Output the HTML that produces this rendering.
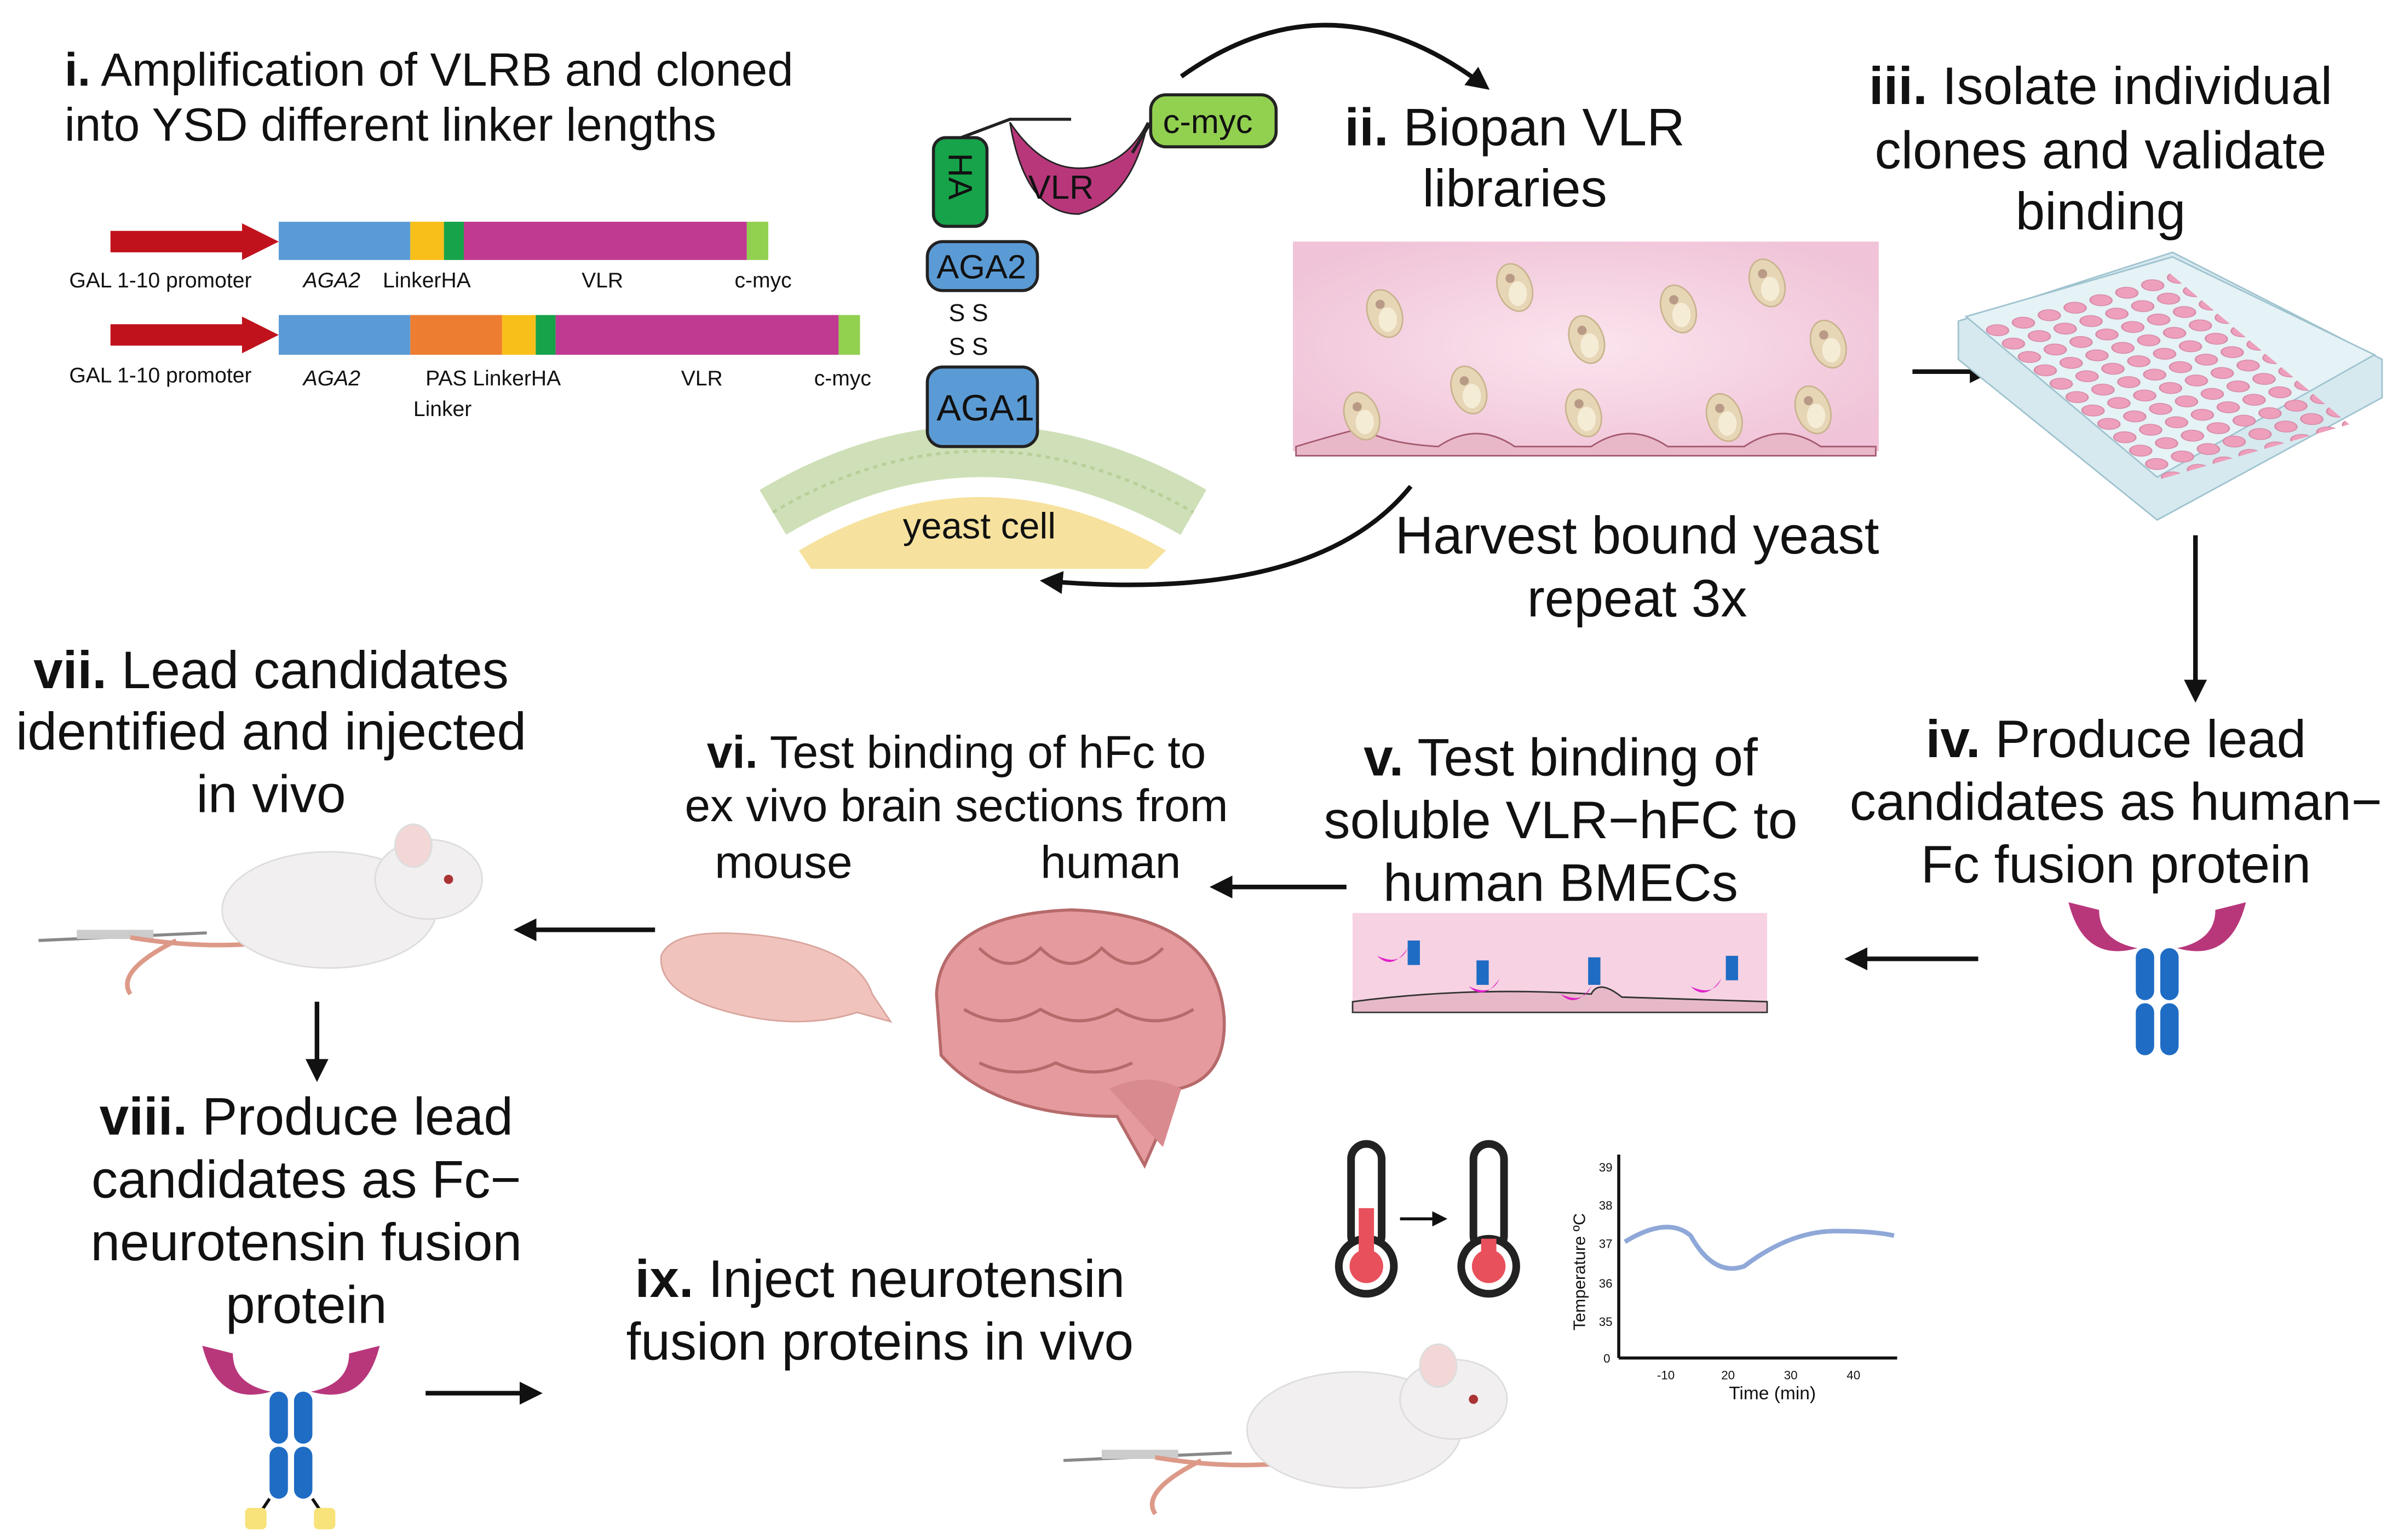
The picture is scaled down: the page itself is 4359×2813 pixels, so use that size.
<!DOCTYPE html>
<html><head><meta charset="utf-8"><style>
html,body{margin:0;padding:0;background:#fff}
svg{display:block}
text{font-family:"Liberation Sans","DejaVu Sans",sans-serif;fill:#111}
.h{font-size:30.5px}
.m{font-size:30px}
.s{font-size:14px}
.b{font-size:34.5px}
</style></head><body>
<svg width="4359" height="2813" viewBox="0 0 1560 1007" xmlns="http://www.w3.org/2000/svg">
<defs>
<marker id="ah" markerWidth="5" markerHeight="5" refX="3.5" refY="2.5" orient="auto" markerUnits="strokeWidth"><path d="M0,0 L5,2.5 L0,5 Z" fill="#111"/></marker>
<radialGradient id="pk" cx="50%" cy="50%" r="60%"><stop offset="0" stop-color="#fbe4ee"/><stop offset="1" stop-color="#f0c3d8"/></radialGradient>
<pattern id="wells" width="1" height="1" patternUnits="userSpaceOnUse"><circle cx="0.5" cy="0.5" r="0.36" fill="#ee9fbc" stroke="#d58aa6" stroke-width="0.05"/></pattern>
<g id="cell"><ellipse cx="0" cy="0" rx="11" ry="16" fill="#e6d6b5" stroke="#c9b48e" transform="rotate(-20)"/><ellipse cx="2" cy="4" rx="6" ry="8" fill="#f5ecd6"/><circle cx="-3" cy="-6" r="3" fill="#b89a86"/></g>
<g id="ab"><path d="M-58,0 q10,40 45,30 q-25,-5 -25,-25 z" fill="#b8377b"/><path d="M58,0 q-10,40 -45,30 q25,-5 25,-25 z" fill="#b8377b"/><rect x="-14" y="30" width="12" height="34" rx="6" fill="#1f6cc4"/><rect x="2" y="30" width="12" height="34" rx="6" fill="#1f6cc4"/><rect x="-14" y="66" width="12" height="34" rx="6" fill="#1f6cc4"/><rect x="2" y="66" width="12" height="34" rx="6" fill="#1f6cc4"/></g>
<g id="mouse"><path d="M-150,50 L-40,45" stroke="#888" stroke-width="2"/><rect x="-125" y="43" width="50" height="6" fill="#ccc"/><path d="M-90,48 q60,10 110,0" stroke="#d98" stroke-width="3" fill="none"/><path d="M-60,50 q-40,20 -30,35" stroke="#d98" stroke-width="3" fill="none"/><ellipse cx="40" cy="30" rx="70" ry="38" fill="#f1efef" stroke="#ddd"/><ellipse cx="105" cy="10" rx="35" ry="26" fill="#f1efef" stroke="#ddd"/><ellipse cx="95" cy="-12" rx="12" ry="14" fill="#f3d6d6" stroke="#ddd"/><circle cx="118" cy="10" r="3" fill="#a33"/></g>
<g id="therm"><rect x="-10" y="0" width="20" height="70" rx="10" fill="#fff" stroke="#222" stroke-width="5"/><circle cx="0" cy="80" r="18" fill="#fff" stroke="#222" stroke-width="5"/><circle cx="0" cy="80" r="11" fill="#e8505b"/></g>
</defs>

<!-- i -->
<text class="h" x="42" y="56"><tspan font-weight="bold">i.</tspan> Amplification of VLRB and cloned</text>
<text class="h" x="42" y="92">into YSD different linker lengths</text>
<line x1="72" y1="158" x2="160" y2="158" stroke="#c0121c" stroke-width="14"/><path d="M158,146 L182,158 L158,170Z" fill="#c0121c"/>
<rect x="182" y="145" width="86" height="25" fill="#5b9bd5"/><rect x="268" y="145" width="22" height="25" fill="#f8bf1a"/><rect x="290" y="145" width="13" height="25" fill="#17a34a"/><rect x="303" y="145" width="185" height="25" fill="#c03a92"/><rect x="488" y="145" width="14" height="25" fill="#92d050"/>
<text class="s" x="45" y="188">GAL 1-10 promoter</text><text class="s" x="198" y="188" font-style="italic">AGA2</text><text class="s" x="250" y="188">LinkerHA</text><text class="s" x="380" y="188">VLR</text><text class="s" x="480" y="188">c-myc</text>
<line x1="72" y1="219" x2="160" y2="219" stroke="#c0121c" stroke-width="14"/><path d="M158,207 L182,219 L158,231Z" fill="#c0121c"/>
<rect x="182" y="206" width="86" height="26" fill="#5b9bd5"/><rect x="268" y="206" width="60" height="26" fill="#ed7d31"/><rect x="328" y="206" width="22" height="26" fill="#f8bf1a"/><rect x="350" y="206" width="13" height="26" fill="#17a34a"/><rect x="363" y="206" width="185" height="26" fill="#c03a92"/><rect x="548" y="206" width="14" height="26" fill="#92d050"/>
<text class="s" x="45" y="250">GAL 1-10 promoter</text><text class="s" x="198" y="252" font-style="italic">AGA2</text><text class="s" x="278" y="252">PAS  LinkerHA</text><text class="s" x="445" y="252">VLR</text><text class="s" x="532" y="252">c-myc</text><text class="s" x="270" y="272">Linker</text>

<!-- yeast -->
<path d="M505,335 Q640,255 780,335" stroke="#cfe0b8" stroke-width="34" fill="none"/>
<path d="M505,335 Q640,255 780,335" stroke="#b9cf9a" stroke-width="2" fill="none" stroke-dasharray="3,3"/>
<path d="M522,360 Q640,290 762,360 L750,372 L530,372Z" fill="#f6e29e"/>
<text x="590" y="352" font-size="24">yeast cell</text>
<rect x="606" y="240" width="72" height="52" rx="10" fill="#5b9bd5" stroke="#222" stroke-width="2"/><text x="612" y="275" font-size="24">AGA1</text>
<text x="620" y="210" font-size="16">S  S</text><text x="620" y="232" font-size="16">S  S</text>
<rect x="606" y="158" width="72" height="32" rx="10" fill="#5b9bd5" stroke="#222" stroke-width="2"/><text x="612" y="182" font-size="22">AGA2</text>
<rect x="610" y="90" width="35" height="58" rx="8" fill="#17a34a" stroke="#222" stroke-width="2"/><text x="0" y="0" font-size="22" transform="translate(620,100) rotate(90)">HA</text>
<path d="M628,90 L660,78 L700,78" stroke="#222" fill="none" stroke-width="2"/>
<path d="M660,80 Q670,140 705,140 Q740,130 750,80 Q735,110 705,110 Q680,110 660,80Z" fill="#b8377b" stroke="#222"/>
<text x="672" y="130" font-size="22">VLR</text>
<path d="M740,100 L752,80" stroke="#222" stroke-width="2"/>
<rect x="752" y="62" width="82" height="34" rx="10" fill="#92d050" stroke="#222" stroke-width="2"/><text x="760" y="87" font-size="22">c-myc</text>
<path d="M772,50 Q870,-20 970,56" stroke="#111" stroke-width="3" fill="none" marker-end="url(#ah)"/>

<!-- ii -->
<text class="b" x="990" y="95" text-anchor="middle"><tspan font-weight="bold">ii.</tspan> Biopan VLR</text>
<text class="b" x="990" y="135" text-anchor="middle">libraries</text>
<rect x="845" y="158" width="383" height="137" fill="url(#pk)"/>
<path d="M847,292 Q870,285 890,280 Q905,290 940,292 Q965,275 990,292 L1040,292 Q1065,275 1090,292 L1140,292 Q1165,275 1190,292 L1226,292 L1226,298 L847,298Z" fill="#e8b8c8" stroke="#a55a70"/>
<use href="#cell" x="905" y="205"/><use href="#cell" x="990" y="188"/><use href="#cell" x="1037" y="222"/><use href="#cell" x="1097" y="202"/><use href="#cell" x="1155" y="185"/><use href="#cell" x="1195" y="225"/><use href="#cell" x="960" y="255"/><use href="#cell" x="890" y="272"/><use href="#cell" x="1035" y="270"/><use href="#cell" x="1127" y="273"/><use href="#cell" x="1185" y="268"/>
<text class="b" x="1070" y="362" text-anchor="middle">Harvest bound yeast</text>
<text class="b" x="1070" y="403" text-anchor="middle">repeat 3x</text>
<path d="M922,318 Q860,395 684,380" stroke="#111" stroke-width="3" fill="none" marker-end="url(#ah)"/>
<line x1="1250" y1="243" x2="1298" y2="243" stroke="#111" stroke-width="3" marker-end="url(#ah)"/>

<!-- iii -->
<text class="b" x="1373" y="68" text-anchor="middle"><tspan font-weight="bold">iii.</tspan> Isolate individual</text>
<text class="b" x="1373" y="110" text-anchor="middle">clones and validate</text>
<text class="b" x="1373" y="150" text-anchor="middle">binding</text>
<path d="M1280,210 L1420,165 L1557,235 L1557,260 L1410,340 L1280,235Z" fill="#d6e9ef" stroke="#9fc3cf"/>
<path d="M1285,207 L1420,168 L1552,232 L1410,312Z" fill="#e5f2f6" stroke="#9fc3cf"/>
<g transform="matrix(10.4,8.75,16.9,-4.9,1292,214)"><rect x="0" y="-7.4" width="11.4" height="7.4" fill="url(#wells)" transform="scale(1,-1)"/></g>
<line x1="1435" y1="350" x2="1435" y2="455" stroke="#111" stroke-width="3" marker-end="url(#ah)"/>

<!-- iv -->
<text class="b" x="1383" y="495" text-anchor="middle"><tspan font-weight="bold">iv.</tspan> Produce lead</text>
<text class="b" x="1383" y="536" text-anchor="middle">candidates as human−</text>
<text class="b" x="1383" y="577" text-anchor="middle">Fc fusion protein</text>
<use href="#ab" x="1410" y="590"/>
<line x1="1293" y1="627" x2="1210" y2="627" stroke="#111" stroke-width="3" marker-end="url(#ah)"/>

<!-- v -->
<text class="b" x="1020" y="507" text-anchor="middle"><tspan font-weight="bold">v.</tspan> Test binding of</text>
<text class="b" x="1020" y="548" text-anchor="middle">soluble VLR−hFC to</text>
<text class="b" x="1020" y="589" text-anchor="middle">human BMECs</text>
<rect x="884" y="597" width="271" height="65" fill="#f6d2e2"/>
<path d="M884,655 Q960,645 1040,650 Q1045,640 1060,652 L1155,655 L1155,662 L884,662Z" fill="#e7b9c8" stroke="#333"/>
<g fill="#1f6cc4"><rect x="920" y="615" width="8" height="16"/><rect x="965" y="628" width="8" height="16"/><rect x="1038" y="626" width="8" height="18"/><rect x="1128" y="625" width="8" height="16"/></g>
<g fill="#e021c8"><path d="M900,625 q10,10 20,-5 q-5,12 -20,5z"/><path d="M960,645 q10,10 20,-5 q-5,12 -20,5z"/><path d="M1020,650 q10,10 20,-5 q-5,12 -20,5z"/><path d="M1105,645 q10,10 20,-5 q-5,12 -20,5z"/></g>
<line x1="880" y1="580" x2="795" y2="580" stroke="#111" stroke-width="3" marker-end="url(#ah)"/>

<!-- vi -->
<text class="m" x="625" y="502" text-anchor="middle"><tspan font-weight="bold">vi.</tspan> Test binding of hFc to</text>
<text class="m" x="625" y="537" text-anchor="middle">ex vivo brain sections from</text>
<text class="m" x="467" y="574">mouse</text><text class="m" x="680" y="574">human</text>
<path d="M612,650 Q615,598 700,595 Q795,598 800,665 Q802,705 770,712 L748,762 L730,730 Q650,730 615,690Z" fill="#e59a9e" stroke="#b76a6a" stroke-width="2"/>
<path d="M725,712 Q750,700 772,712 L760,750 Z" fill="#d98a8e"/>
<path d="M640,620 q20,20 40,0 q20,20 40,0 q20,20 40,0 M630,660 q25,15 50,0 q25,15 50,0 q25,15 50,0 M640,695 q25,12 50,0 q25,12 50,0" stroke="#b76a6a" stroke-width="2" fill="none"/>
<path d="M432,625 Q440,605 500,612 Q560,620 570,650 L582,668 L560,662 Q520,675 470,660 Q430,648 432,625Z" fill="#f0c4bc" stroke="#d8a49c"/>
<line x1="428" y1="608" x2="340" y2="608" stroke="#111" stroke-width="3" marker-end="url(#ah)"/>

<!-- vii -->
<text class="b" x="177" y="450" text-anchor="middle"><tspan font-weight="bold">vii.</tspan> Lead candidates</text>
<text class="b" x="177" y="490" text-anchor="middle">identified and injected</text>
<text class="b" x="177" y="531" text-anchor="middle">in vivo</text>
<use href="#mouse" x="175" y="565"/>
<line x1="207" y1="655" x2="207" y2="703" stroke="#111" stroke-width="3" marker-end="url(#ah)"/>

<!-- viii -->
<text class="b" x="200" y="742" text-anchor="middle"><tspan font-weight="bold">viii.</tspan> Produce lead</text>
<text class="b" x="200" y="783" text-anchor="middle">candidates as Fc−</text>
<text class="b" x="200" y="824" text-anchor="middle">neurotensin fusion</text>
<text class="b" x="200" y="865" text-anchor="middle">protein</text>
<use href="#ab" x="190" y="880"/>
<path d="M176,980 L168,992 M204,980 L212,992" stroke="#111" stroke-width="2"/>
<rect x="160" y="986" width="14" height="14" rx="3" fill="#f8e27a"/><rect x="205" y="986" width="14" height="14" rx="3" fill="#f8e27a"/>
<line x1="278" y1="911" x2="350" y2="911" stroke="#111" stroke-width="3" marker-end="url(#ah)"/>

<!-- ix -->
<text class="b" x="575" y="848" text-anchor="middle"><tspan font-weight="bold">ix.</tspan> Inject neurotensin</text>
<text class="b" x="575" y="889" text-anchor="middle">fusion proteins in vivo</text>
<use href="#therm" x="893" y="748"/><use href="#therm" x="973" y="748"/>
<rect x="888" y="790" width="10" height="40" fill="#e8505b"/><rect x="968" y="810" width="10" height="20" fill="#e8505b"/>
<line x1="915" y1="797" x2="943" y2="797" stroke="#111" stroke-width="2" marker-end="url(#ah)"/>
<use href="#mouse" x="845" y="905"/>
<!-- chart -->
<line x1="1058" y1="755" x2="1058" y2="888" stroke="#111" stroke-width="2"/><line x1="1058" y1="888" x2="1240" y2="888" stroke="#111" stroke-width="2"/>
<g font-size="8"><text x="1045" y="766">39</text><text x="1045" y="791">38</text><text x="1045" y="816">37</text><text x="1045" y="842">36</text><text x="1045" y="867">35</text><text x="1048" y="891">0</text>
<text x="1083" y="902">-10</text><text x="1125" y="902">20</text><text x="1166" y="902">30</text><text x="1207" y="902">40</text></g>
<text x="1130" y="915" font-size="12">Time (min)</text>
<text x="0" y="0" font-size="11" transform="translate(1036,870) rotate(-90)">Temperature ºC</text>
<path d="M1062,812 Q1090,795 1105,808 Q1120,835 1140,828 Q1170,805 1200,805 Q1225,805 1238,808" stroke="#8fa8d8" stroke-width="3" fill="none"/>
</svg>
</body></html>
